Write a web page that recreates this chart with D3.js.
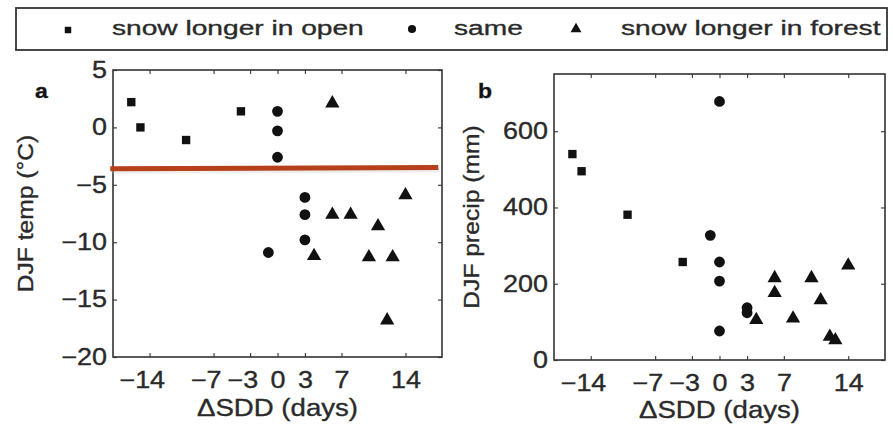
<!DOCTYPE html>
<html>
<head>
<meta charset="utf-8">
<script src="https://cdn.jsdelivr.net/npm/d3@7"></script>
<style>
  html, body { margin: 0; padding: 0; background: #fff; }
  svg { display: block; font-family: "Liberation Sans", Arial, Helvetica, sans-serif; }
  svg text { stroke: #2a2a2a; stroke-width: 0.35px; }
</style>
</head>
<body>
<svg id="chart" width="893" height="425"></svg>
<script>
// ΔSDD (days) for each site, by group
const daysOpenA   = [-16, -15, -10, -4];
const daysSameA   = [0, 0, 0, 3, 3, 3, -1];
const daysForestA = [6, 4, 6, 8, 11, 10, 12.6, 14, 12];
// DJF temperature (°C)
const tempOpen   = [2.2, 0, -1.1, 1.4];
const tempSame   = [1.4, -0.3, -2.6, -6.1, -7.6, -9.8, -10.9];
const tempForest = [2.1, -11.2, -7.6, -7.6, -8.6, -11.3, -11.3, -5.9, -16.8];

const daysOpenB   = [-16, -15, -10, -4];
const daysSameB   = [0, -1, 0, 0, 0, 3, 3];
const daysForestB = [6, 6, 4, 8, 10, 11, 12, 12.6, 14];
// DJF precipitation (mm)
const precipOpen   = [540, 495, 381, 257];
const precipSame   = [678, 327, 257, 207, 76, 137, 124];
const precipForest = [215, 176, 105, 109, 215, 157, 61, 52, 248];

// threshold line across panel a (°C)
const thresholdDays = [-18.3, 17.6];
const thresholdTemp = [-3.6, -3.5];

const xTicks = [-14, -7, -3, 0, 3, 7, 14];
const tempTicks = [5, 0, -5, -10, -15, -20];
const precipTicks = [0, 200, 400, 600];

const groupNames = ["snow longer in open", "same", "snow longer in forest"];

const svg = d3.select("#chart");
const ink = "#2a2a2a";
const tickFont = 23, tickStretch = 1.17;

const symbols = [d3.symbolSquare, d3.symbolCircle, d3.symbolTriangle];
const symbolSizes = [70, 92, 88];

function panel(cfg) {
  const x = d3.scaleLinear().domain([-18, 18]).range([cfg.left, cfg.right]);
  const y = d3.scaleLinear().domain(cfg.yDomain).range([cfg.bottom, cfg.top]);
  const g = svg.append("g");

  const fmt = d => d < 0 ? "\u2212" + Math.abs(d) : String(d);

  // bottom axis with inward ticks
  const bx = g.append("g").attr("transform", `translate(0,${cfg.bottom})`)
    .call(d3.axisBottom(x).tickValues(xTicks).tickFormat(fmt).tickSize(-4).tickPadding(15));
  // top ticks
  g.append("g").attr("transform", `translate(0,${cfg.top})`)
    .call(d3.axisTop(x).tickValues(xTicks).tickFormat("").tickSize(-4));
  // left axis
  const ly = g.append("g").attr("transform", `translate(${cfg.left},0)`)
    .call(d3.axisLeft(y).tickValues(cfg.yTicks).tickFormat(fmt).tickSize(-4).tickPadding(6));
  // right ticks
  g.append("g").attr("transform", `translate(${cfg.right},0)`)
    .call(d3.axisRight(y).tickValues(cfg.yTicks).tickFormat("").tickSize(-4));

  g.selectAll(".domain").remove();
  g.selectAll(".tick line").attr("stroke", "#444").attr("stroke-width", 1.2);
  // digits sit centred on the tick; a minus sign hangs to the left
  bx.selectAll("text").attr("font-size", tickFont).attr("fill", ink)
    .attr("font-family", null)
    .attr("dx", d => d < 0 ? "-0.29em" : null)
    .attr("transform", `scale(${tickStretch},1)`);
  ly.selectAll("text").attr("font-size", tickFont).attr("fill", ink)
    .attr("font-family", null)
    .attr("x", -6 / tickStretch)
    .attr("transform", `scale(${tickStretch},1)`);

  // frame
  g.append("rect")
    .attr("x", cfg.left).attr("y", cfg.top)
    .attr("width", cfg.right - cfg.left).attr("height", cfg.bottom - cfg.top)
    .attr("fill", "none").attr("stroke", "#333").attr("stroke-width", 1.6);

  // axis titles
  g.append("text")
    .attr("transform", `translate(${(cfg.left + cfg.right) / 2},${cfg.xTitleY}) scale(1.15,1)`)
    .attr("text-anchor", "middle").attr("font-size", 24).attr("fill", ink)
    .text("\u0394SDD (days)");
  g.append("text")
    .attr("transform", `translate(${cfg.yTitleX},${(cfg.top + cfg.bottom) / 2}) rotate(-90) scale(1.12,1)`)
    .attr("text-anchor", "middle").attr("font-size", 22).attr("fill", ink)
    .text(cfg.yTitle);

  // panel letter
  g.append("text")
    .attr("transform", `translate(${cfg.letterX},98) scale(1.15,1)`)
    .attr("font-size", 20).attr("font-weight", "bold").attr("fill", "#111")
    .text(cfg.letter);

  // markers
  cfg.series.forEach((s, i) => {
    const pts = s.xs.map((d, j) => [d, s.ys[j]]);
    g.append("g").selectAll("path").data(pts).join("path")
      .attr("transform", d => `translate(${x(d[0])},${y(d[1])})`)
      .attr("d", d3.symbol().type(symbols[i]).size(symbolSizes[i]))
      .attr("fill", "#111");
  });
  return { x, y, g };
}

const a = panel({
  left: 113, right: 442, top: 70, bottom: 357,
  yDomain: [-20, 5], yTicks: tempTicks,
  yTitle: "DJF temp (\u00B0C)", yTitleX: 33, xTitleY: 416,
  letter: "a", letterX: 35,
  series: [
    { xs: daysOpenA, ys: tempOpen },
    { xs: daysSameA, ys: tempSame },
    { xs: daysForestA, ys: tempForest }
  ]
});

panel({
  left: 554, right: 885, top: 74, bottom: 360,
  yDomain: [0, 750], yTicks: precipTicks,
  yTitle: "DJF precip (mm)", yTitleX: 479, xTitleY: 418,
  letter: "b", letterX: 478,
  series: [
    { xs: daysOpenB, ys: precipOpen },
    { xs: daysSameB, ys: precipSame },
    { xs: daysForestB, ys: precipForest }
  ]
});

// threshold line on panel a, with a faint shadow beneath it
const lineGen = d3.line().x(d => a.x(d[0])).y(d => a.y(d[1]));
const thresholdPts = thresholdDays.map((d, i) => [d, thresholdTemp[i]]);
svg.append("path").datum(thresholdPts)
  .attr("d", lineGen).attr("transform", "translate(1,3)")
  .attr("stroke", "#bbb").attr("stroke-opacity", 0.25).attr("stroke-width", 4)
  .attr("fill", "none");
svg.append("path").datum(thresholdPts)
  .attr("d", lineGen)
  .attr("stroke", "#b5401a").attr("stroke-width", 5).attr("fill", "none");

// legend
const legend = svg.append("g");
legend.append("rect")
  .attr("x", 16).attr("y", 8).attr("width", 871).attr("height", 42)
  .attr("fill", "#fff").attr("stroke", "#333").attr("stroke-width", 1.8);
const legendItems = [
  { mx: 68, my: 30, tx: 112, size: 42 },
  { mx: 412, my: 29, tx: 454, size: 52 },
  { mx: 576, my: 29, tx: 621, size: 52 }
];
legendItems.forEach((it, i) => {
  legend.append("path")
    .attr("transform", `translate(${it.mx},${it.my})`)
    .attr("d", d3.symbol().type(symbols[i]).size(it.size))
    .attr("fill", "#111");
  legend.append("text")
    .attr("transform", `translate(${it.tx},35) scale(1.34,1)`)
    .attr("font-size", 21).attr("fill", ink)
    .text(groupNames[i]);
});
</script>
</body>
</html>
